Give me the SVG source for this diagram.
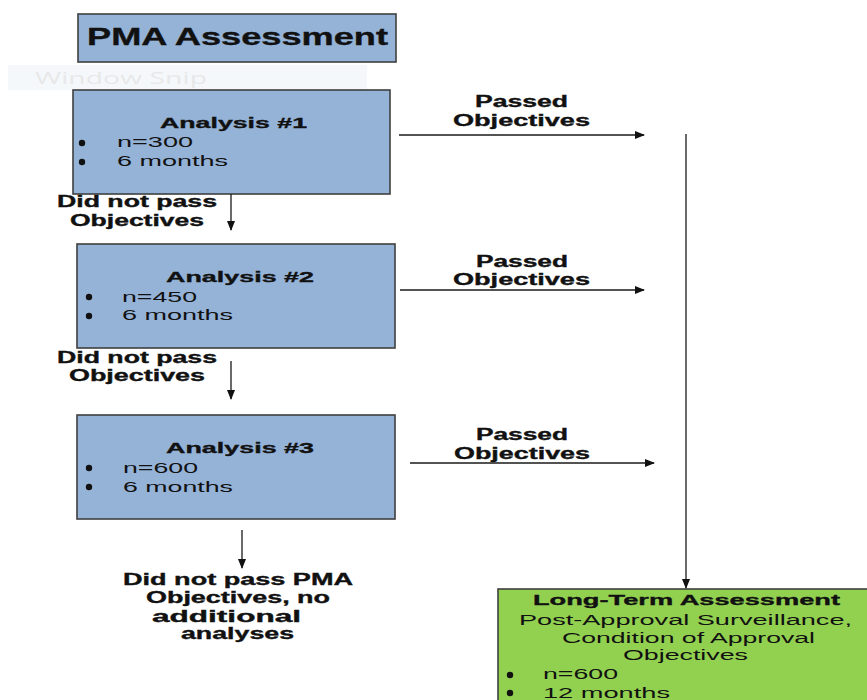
<svg xmlns="http://www.w3.org/2000/svg" width="867" height="700" viewBox="0 0 867 700">
<style>
.box{fill:#95b3d7;stroke:#3f3f3f;stroke-width:1.6}
.green{fill:#92d050;stroke:#3f3f3f;stroke-width:1.6}
.t{font-family:"Liberation Sans",Arial,sans-serif;fill:#111}
.b{font-weight:bold;stroke:#111;stroke-width:0.35}
.line{stroke:#1a1a1a;stroke-width:1.3;fill:none}
.dot{fill:#111}
</style>
<defs>
<marker id="ah" markerWidth="10" markerHeight="8" refX="9" refY="4" orient="auto" markerUnits="userSpaceOnUse">
<path d="M0,0 L10,4 L0,8 Z" fill="#111"/>
</marker>
</defs>
<rect width="867" height="700" fill="#ffffff"/>

<g id="window-snip">
<rect x="8" y="65" width="359" height="25" fill="#f4f8fb"/>
<text x="35" y="84" font-family="'Open Sans','Noto Sans',sans-serif" font-size="16" fill="#e8e8e8" textLength="172" lengthAdjust="spacingAndGlyphs">Window Snip</text>
</g>

<g id="pma-assessment">
<rect class="box" x="78" y="14" width="318" height="48"/>
<text class="t b" x="87" y="45" font-size="24" textLength="301" lengthAdjust="spacingAndGlyphs">PMA Assessment</text>
</g>

<g id="analysis1">
<rect class="box" x="73" y="90" width="317" height="104"/>
<text class="t b" x="160" y="128" font-size="15.5" textLength="147" lengthAdjust="spacingAndGlyphs">Analysis #1</text>
<circle class="dot" cx="82" cy="143" r="3.2"/>
<circle class="dot" cx="82" cy="162" r="3.2"/>
<text class="t" x="117" y="147" font-size="15.5" textLength="76" lengthAdjust="spacingAndGlyphs">n=300</text>
<text class="t" x="117" y="166" font-size="15.5" textLength="111" lengthAdjust="spacingAndGlyphs">6 months</text>
</g>

<g id="analysis2">
<rect class="box" x="77" y="244" width="318" height="104"/>
<text class="t b" x="166" y="282" font-size="15.5" textLength="148" lengthAdjust="spacingAndGlyphs">Analysis #2</text>
<circle class="dot" cx="89" cy="297" r="3.2"/>
<circle class="dot" cx="89" cy="316" r="3.2"/>
<text class="t" x="122" y="302" font-size="15.5" textLength="75" lengthAdjust="spacingAndGlyphs">n=450</text>
<text class="t" x="122" y="320" font-size="15.5" textLength="111" lengthAdjust="spacingAndGlyphs">6 months</text>
</g>

<g id="analysis3">
<rect class="box" x="77" y="415" width="318" height="104"/>
<text class="t b" x="166" y="453" font-size="15.5" textLength="148" lengthAdjust="spacingAndGlyphs">Analysis #3</text>
<circle class="dot" cx="89" cy="468" r="3.2"/>
<circle class="dot" cx="89" cy="487" r="3.2"/>
<text class="t" x="123" y="473" font-size="15.5" textLength="75" lengthAdjust="spacingAndGlyphs">n=600</text>
<text class="t" x="123" y="492" font-size="15.5" textLength="110" lengthAdjust="spacingAndGlyphs">6 months</text>
</g>

<g id="long-term">
<rect class="green" x="498" y="589" width="375" height="120"/>
<text class="t b" x="533" y="605" font-size="15.5" textLength="307" lengthAdjust="spacingAndGlyphs">Long-Term Assessment</text>
<text class="t" x="519" y="625" font-size="15.5" textLength="333" lengthAdjust="spacingAndGlyphs">Post-Approval Surveillance,</text>
<text class="t" x="562" y="643" font-size="15.5" textLength="253" lengthAdjust="spacingAndGlyphs">Condition of Approval</text>
<text class="t" x="623" y="660" font-size="15.5" textLength="125" lengthAdjust="spacingAndGlyphs">Objectives</text>
<circle class="dot" cx="510" cy="675" r="3.2"/>
<circle class="dot" cx="510" cy="693" r="3.2"/>
<text class="t" x="543" y="679" font-size="15.5" textLength="75" lengthAdjust="spacingAndGlyphs">n=600</text>
<text class="t" x="543" y="698" font-size="15.5" textLength="127" lengthAdjust="spacingAndGlyphs">12 months</text>
</g>

<g id="fail-end">
<text class="t b" x="123" y="585" font-size="16" textLength="230" lengthAdjust="spacingAndGlyphs">Did not pass PMA</text>
<text class="t b" x="146" y="603" font-size="16" textLength="184" lengthAdjust="spacingAndGlyphs">Objectives, no</text>
<text class="t b" x="152" y="622" font-size="16" textLength="149" lengthAdjust="spacingAndGlyphs">additional</text>
<text class="t b" x="181" y="639" font-size="16" textLength="113" lengthAdjust="spacingAndGlyphs">analyses</text>
</g>

<g id="connectors">
<line class="line" x1="231" y1="194" x2="231" y2="230" marker-end="url(#ah)"/>
<line class="line" x1="231" y1="361" x2="231" y2="399" marker-end="url(#ah)"/>
<line class="line" x1="242" y1="530" x2="242" y2="568" marker-end="url(#ah)"/>
<line class="line" x1="399" y1="135" x2="644" y2="135" marker-end="url(#ah)"/>
<line class="line" x1="400" y1="290" x2="644" y2="290" marker-end="url(#ah)"/>
<line class="line" x1="410" y1="463" x2="654" y2="463" marker-end="url(#ah)"/>
<line class="line" x1="686" y1="134" x2="686" y2="588" stroke-width="1.8" marker-end="url(#ah)"/>
</g>

<g id="labels">
<text class="t b" x="57" y="207" font-size="16" textLength="160" lengthAdjust="spacingAndGlyphs">Did not pass</text>
<text class="t b" x="70" y="226" font-size="16" textLength="134" lengthAdjust="spacingAndGlyphs">Objectives</text>
<text class="t b" x="57" y="363" font-size="16" textLength="160" lengthAdjust="spacingAndGlyphs">Did not pass</text>
<text class="t b" x="69" y="381" font-size="16" textLength="136" lengthAdjust="spacingAndGlyphs">Objectives</text>
<text class="t b" x="475" y="107" font-size="16" textLength="93" lengthAdjust="spacingAndGlyphs">Passed</text>
<text class="t b" x="453" y="126" font-size="16" textLength="137" lengthAdjust="spacingAndGlyphs">Objectives</text>
<text class="t b" x="476" y="267" font-size="16" textLength="92" lengthAdjust="spacingAndGlyphs">Passed</text>
<text class="t b" x="453" y="285" font-size="16" textLength="137" lengthAdjust="spacingAndGlyphs">Objectives</text>
<text class="t b" x="476" y="440" font-size="16" textLength="92" lengthAdjust="spacingAndGlyphs">Passed</text>
<text class="t b" x="454" y="459" font-size="16" textLength="136" lengthAdjust="spacingAndGlyphs">Objectives</text>
</g>
</svg>
